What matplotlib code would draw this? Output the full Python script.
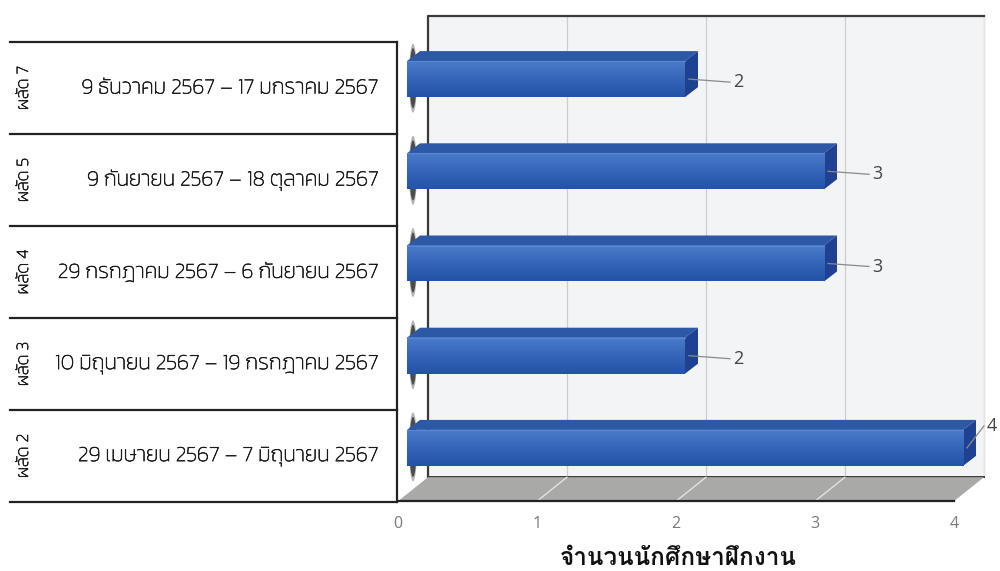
import numpy as np
import matplotlib
matplotlib.use("Agg")
import matplotlib.pyplot as plt
import matplotlib.patheffects as pe
from matplotlib.patches import Polygon, Rectangle, Ellipse
from matplotlib.colors import LinearSegmentedColormap

# internship rounds, bottom to top
rounds = ["ผลัด 2", "ผลัด 3", "ผลัด 4", "ผลัด 5", "ผลัด 7"]
periods = [
    "29 เมษายน 2567 – 7 มิถุนายน 2567",
    "10 มิถุนายน 2567 – 19 กรกฎาคม 2567",
    "29 กรกฎาคม 2567 – 6 กันยายน 2567",
    "9 กันยายน 2567 – 18 ตุลาคม 2567",
    "9 ธันวาคม 2567 – 17 มกราคม 2567",
]
interns = [4, 2, 3, 3, 2]
x_ticks = [0, 1, 2, 3, 4]
x_title = "จำนวนนักศึกษาฝึกงาน"

label_font = ["Kanit", "DejaVu Sans"]
title_font = ["Loma", "Noto Sans Thai Looped", "DejaVu Sans"]
num_font = ["Open Sans", "DejaVu Sans"]
plt.rcParams["font.family"] = label_font

W, H = 1000, 571
fig = plt.figure(figsize=(W / 100, H / 100), dpi=100)

# bar plane axes
ax_l, ax_r, ax_t, ax_b = 407, 963, 33, 494
ax = fig.add_axes([ax_l / W, 1 - ax_b / H, (ax_r - ax_l) / W, (ax_b - ax_t) / H])
ax.set_xlim(0, 4)
ax.set_ylim(-0.5, 4.5)
ax.axis("off")

sx = (ax_r - ax_l) / 4.0   # px per value
sy = (ax_b - ax_t) / 5.0   # px per row
Dx, Dy = 30 / sx, 24 / sy  # full depth of the 3d box in data units

# back wall
bw = (0.7 * Dx, 0.7 * Dy)
ax.add_patch(Rectangle((bw[0], -0.5 + bw[1]), 4, 5, facecolor="#f3f4f6",
                       edgecolor="none", zorder=1, clip_on=False))
for k in x_ticks[1:]:
    ax.plot([k + bw[0]] * 2, [-0.5 + bw[1], 4.5 + bw[1]], color="#cdcdcd",
            lw=0.9, zorder=2, clip_on=False)
ax.plot([4 + bw[0]] * 2, [-0.5 + bw[1], 4.5 + bw[1]], color="#e4e4e4",
        lw=1.0, zorder=2, clip_on=False)
ax.plot([bw[0], bw[0], 4 + bw[0]], [-0.5 + bw[1], 4.5 + bw[1], 4.5 + bw[1]],
        color="#3a3a3a", lw=1.6, zorder=2, clip_on=False)
ax.plot([bw[0], 4 + bw[0]], [-0.5 + bw[1]] * 2, color="#3a3a3a", lw=1.4,
        zorder=2, clip_on=False)

# floor
fr = (-0.3 * Dx, -0.3 * Dy)
floor = [(fr[0], -0.5 + fr[1]), (4 + fr[0], -0.5 + fr[1]),
         (4 + bw[0], -0.5 + bw[1]), (bw[0], -0.5 + bw[1])]
ax.add_patch(Polygon(floor, closed=True, facecolor="#a9aaa8", edgecolor="none",
                     zorder=2, clip_on=False))
for k in x_ticks[1:4]:
    ax.plot([k + fr[0], k + bw[0]], [-0.5 + fr[1], -0.5 + bw[1]],
            color="#e8e8e8", lw=0.9, zorder=2, clip_on=False)
ax.plot([fr[0], 4 + fr[0]], [-0.5 + fr[1]] * 2, color="#222222", lw=1.6,
        zorder=3, clip_on=False)

# tick labels along the front edge of the floor
for k in x_ticks:
    ax.text(k + fr[0], -0.5 + fr[1] - 23 / sy, str(k), ha="center", va="center",
            fontsize=11.5, color="#7a7a7a", family=num_font, clip_on=False)

ax.text(2 - 7 / sx, -0.5 + fr[1] - 57 / sy, x_title, ha="center", va="center",
        fontsize=17.5, fontweight="bold", color="#111111", family=title_font,
        clip_on=False)

# bars
bh = 36 / sy
bd = (13 / sx, 10 / sy)
grad = LinearSegmentedColormap.from_list("face", ["#2253a8", "#3465b8", "#4a7bcb"])
for i, v in enumerate(interns):
    y0, y1 = i - bh / 2, i + bh / 2
    # dark smudge at the root of the bar
    for a, s in [(0.35, 1.15), (0.75, 1.0)]:
        ax.add_patch(Ellipse((6 / sx, i + 1 / sy), 7 * s / sx, (bh + 24 / sy) * s,
                             facecolor="#2a2a2a", edgecolor="none", alpha=a,
                             zorder=3, clip_on=False))
    top = [(0, y1), (v, y1), (v + bd[0], y1 + bd[1]), (bd[0], y1 + bd[1])]
    ax.add_patch(Polygon(top, closed=True, facecolor="#2c58a6", edgecolor="none",
                         zorder=4, clip_on=False))
    side = [(v, y0), (v + bd[0], y0 + bd[1]), (v + bd[0], y1 + bd[1]), (v, y1)]
    ax.add_patch(Polygon(side, closed=True, facecolor="#1f4192", edgecolor="none",
                         zorder=4, clip_on=False))
    ax.imshow(np.linspace(0, 1, 50).reshape(-1, 1), cmap=grad, origin="lower",
              extent=[0, v, y0, y1], aspect="auto", zorder=5, clip_on=False)
    ax.plot([0, v], [y1, y1], color="#5b86d0", lw=0.8, zorder=5, clip_on=False)

    # value label with leader line; pulled in and raised near the right edge
    lx0, ly0 = v + bd[0] * 0.3, i
    lx1 = v + bd[0] + 32 / sx
    ly1 = i - 3 / sy
    if ax_l + lx1 * sx + 16 > W:
        lx1 = (W - 16 - ax_l) / sx
        ly1 = i + 22 / sy
    ax.plot([lx0, lx1], [ly0, ly1], color="#8a8a8a", lw=0.9, zorder=6,
            clip_on=False)
    ax.text(lx1 + 3 / sx, ly1, str(v), ha="left", va="center", fontsize=13,
            color="#444444", family=num_font, zorder=6, clip_on=False)

ax.set_xlim(0, 4)
ax.set_ylim(-0.5, 4.5)

# category table on the left
tab = fig.add_axes([10 / W, 1 - 502 / H, 387 / W, 460 / H])
tab.set_xlim(0, 1)
tab.set_ylim(-0.5, 4.5)
tab.axis("off")
for k in range(6):
    tab.plot([0, 1], [k - 0.5] * 2, color="#222222", lw=1.6, clip_on=False)
tab.plot([1, 1], [-0.5, 4.5], color="#222222", lw=1.6, clip_on=False)
thicken = [pe.withStroke(linewidth=0.45, foreground="#1a1a1a")]
for i, (r, p) in enumerate(zip(rounds, periods)):
    tab.text(14 / 387, i, r, rotation=90, ha="center", va="center",
             fontsize=12.5, fontweight="light", color="#1a1a1a",
             family=label_font, path_effects=thicken)
    tab.text(368 / 387, i, p, ha="right", va="center", fontsize=15.5,
             fontweight="light", color="#1a1a1a", family=label_font,
             path_effects=thicken)

fig.savefig("out.png", dpi=100, facecolor="white")
